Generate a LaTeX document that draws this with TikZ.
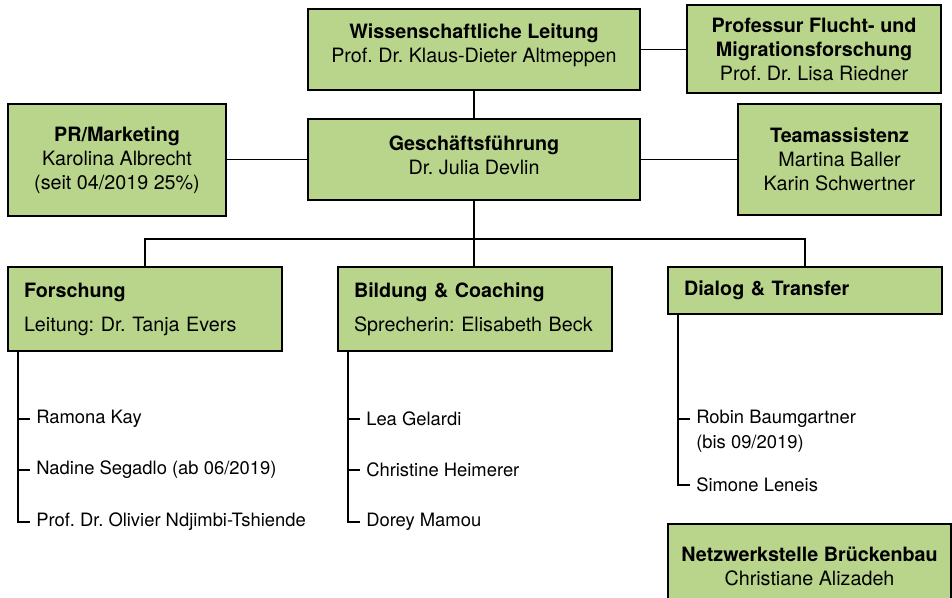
\documentclass[tikz,border=0pt]{standalone}
\usepackage{fontspec}
\setmainfont{TeX Gyre Heros}
\usepackage{tikz}
\usetikzlibrary{positioning}
\definecolor{boxgreen}{RGB}{185,213,139}
\frenchspacing

\begin{document}
\begin{tikzpicture}[x=0.75pt,y=0.75pt,yscale=-1,xscale=1,
    box/.style={draw=black, fill=boxgreen, line width=1.4pt, inner sep=0pt, align=center,
      font=\fontsize{14.8}{18}\selectfont},
    unit/.style={box, minimum width=205.5pt, text width=181.5pt, align=left},
    member/.style={anchor=west, inner xsep=4.5pt, inner ysep=0pt, font=\fontsize{13.8}{17}\selectfont},
    conn/.style={line width=1.3pt}]
        \useasboundingbox (0,0) rectangle (952,597);
        \clip (0,0) rectangle (952,597);

        %Shape: Rectangle [Leitung]
        \node[box, minimum width=249pt, minimum height=60.75pt, text depth=9pt] (wiss) at (474,49.5)
          {\textbf{Wissenschaftliche Leitung}\\Prof. Dr. Klaus-Dieter Altmeppen};
        %Shape: Rectangle [Professur]
        \node[box, minimum width=190.5pt, minimum height=66pt] (prof) at (814,49)
          {\textbf{Professur Flucht- und}\\\textbf{Migrationsforschung}\\Prof. Dr. Lisa Riedner};
        %Shape: Rectangle [PR]
        \node[box, minimum width=163.5pt, minimum height=84pt] (pr) at (117,160)
          {\textbf{PR/Marketing}\\Karolina Albrecht\\(seit 04/2019 25\%)};
        %Shape: Rectangle [Geschaeftsfuehrung]
        \node[box, minimum width=249pt, minimum height=60.75pt, text depth=6pt] (gf) at (474,159.5)
          {\textbf{Geschäftsführung}\\Dr. Julia Devlin};
        %Shape: Rectangle [Teamassistenz]
        \node[box, minimum width=152.25pt, minimum height=83.25pt] (team) at (839.5,159.5)
          {\textbf{Teamassistenz}\\Martina Baller\\Karin Schwertner};

        %Shape: Rectangle [Bereiche]
        \node[unit, minimum height=63pt] (fo) at (145,309)
          {\textbf{Forschung}\\[7.5pt]Leitung: Dr. Tanja Evers};
        \node[unit, minimum height=63pt] (bi) at (475,309)
          {\textbf{Bildung \& Coaching}\\[7.5pt]Sprecherin: Elisabeth Beck};
        \node[unit, minimum height=35.25pt] (di) at (805,290.5)
          {\textbf{Dialog \& Transfer}};

        %Shape: Rectangle [Netzwerkstelle]
        \node[box, minimum width=212.25pt, minimum height=63pt] (netz) at (809.5,566)
          {\textbf{Netzwerkstelle Brückenbau}\\Christiane Alizadeh};

        %Straight Lines [obere Ebene]
        \draw[conn] (wiss) -- (gf);
        \draw[conn] (wiss.east) -- (wiss.east -| prof.west);
        \draw[conn] (gf.west) -- (gf.west -| pr.east);
        \draw[conn] (gf.east) -- (gf.east -| team.west);

        %Straight Lines [Verteiler]
        \coordinate (bus) at (474,239);
        \draw[conn] (gf.south) -- (gf.south |- bi.north);
        \draw[conn] (fo.north) |- (bus) -| (di.north);

        % Text Node [Mitarbeitende]
        \node[member] (fo-m1) at (30,419) {Ramona Kay};
        \node[member] (fo-m2) at (30,470) {Nadine Segadlo (ab 06/2019)};
        \node[member] (fo-m3) at (30,522) {Prof. Dr. Olivier Ndjimbi-Tshiende};
        \node[member] (bi-m1) at (360,419) {Lea Gelardi};
        \node[member] (bi-m2) at (360,470) {Christine Heimerer};
        \node[member] (bi-m3) at (360,522) {Dorey Mamou};
        \node[member] (di-m1) at (690,419) {Robin Baumgartner};
        \node[member, below right=5pt and 0pt of di-m1.south west] (di-m1-note) {(bis 09/2019)};
        \node[member] (di-m2) at (690,485) {Simone Leneis};

        %Straight Lines [Zuordnung]
        \coordinate (fo-stem) at ([xshift=8.25pt]fo.south west);
        \coordinate (bi-stem) at ([xshift=8.25pt]bi.south west);
        \coordinate (di-stem) at ([xshift=8.25pt]di.south west);
        \draw[conn] (fo-stem) |- (fo-m3.west);
        \draw[conn] (fo-stem |- fo-m1.west) -- (fo-m1.west);
        \draw[conn] (fo-stem |- fo-m2.west) -- (fo-m2.west);
        \draw[conn] (bi-stem) |- (bi-m3.west);
        \draw[conn] (bi-stem |- bi-m1.west) -- (bi-m1.west);
        \draw[conn] (bi-stem |- bi-m2.west) -- (bi-m2.west);
        \draw[conn] (di-stem) |- (di-m2.west);
        \draw[conn] (di-stem |- di-m1.west) -- (di-m1.west);
\end{tikzpicture}
\end{document}
